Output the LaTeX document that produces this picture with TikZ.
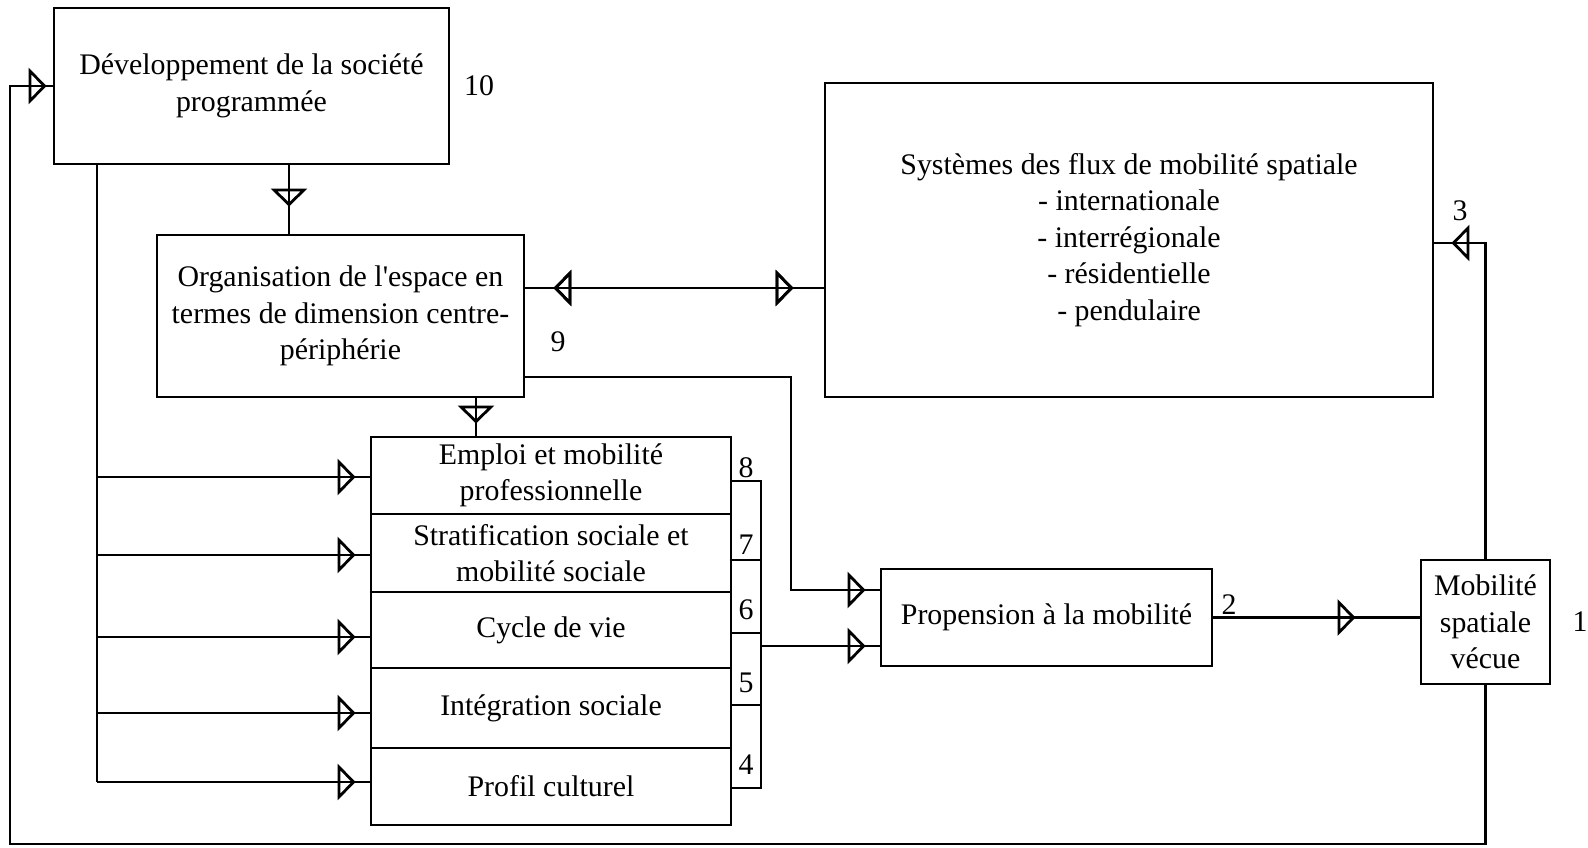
\documentclass[tikz,border=0pt]{standalone}
\usepackage{fontspec}
\setmainfont{Liberation Serif}
\usetikzlibrary{arrows.meta, positioning, decorations.markings}

\begin{document}
\begin{tikzpicture}[
    x=0.1mm, y=-0.1mm,
    every node/.style = {font=\fontsize{8.5}{10.4}\selectfont},
    tri/.tip = {Triangle[open, length=1.8mm, width=3.6mm]},
    box/.style = {rectangle, draw, line width=0.8pt, align=center, inner sep=0pt},
    layer/.style = {box, minimum width=36mm},
    num/.style = {inner sep=0pt},
    line/.style = {line width=0.6pt},
    gap/.style = {line, postaction={decorate},
                  decoration={markings, mark=at position -#1 with {\arrow[line width=0.8pt]{tri}}}},
    gapback/.style = {postaction={decorate},
                  decoration={markings, mark=at position #1 with {\arrowreversed[line width=0.8pt]{tri}}}}
  ]
  \useasboundingbox (0,0) rectangle (1588,848);

  % nodes
  \node[box, minimum width=39.5mm, minimum height=15.6mm] (dev) at (251.5,86)
       {D\'eveloppement de la soci\'et\'e\\programm\'ee};
  \node[box, minimum width=36.7mm, minimum height=16.2mm] (org) at (340.5,316)
       {Organisation de l\textquotesingle espace en\\termes de dimension centre-\\p\'eriph\'erie};
  \node[box, minimum width=60.8mm, minimum height=31.4mm] (sys) at (1129,240)
       {Syst\`emes des flux de mobilit\'e spatiale\\- internationale\\- interr\'egionale\\- r\'esidentielle\\- pendulaire};

  \node[layer, minimum height=7.7mm] (emp)   at (551,475.5) {Emploi et mobilit\'e\\professionnelle};
  \node[layer, minimum height=7.8mm] (strat) at (551,553)   {Stratification sociale et\\mobilit\'e sociale};
  \node[layer, minimum height=7.6mm] (cyc)   at (551,630)   {Cycle de vie};
  \node[layer, minimum height=8.0mm] (integ) at (551,708)   {Int\'egration sociale};
  \node[layer, minimum height=7.7mm] (prof)  at (551,786.5) {Profil culturel};

  \node[box, minimum width=33.1mm, minimum height=9.7mm]  (prop) at (1046.5,617.5) {Propension \`a la mobilit\'e};
  \node[box, minimum width=12.9mm, minimum height=12.4mm] (mob)  at (1485.5,622)   {Mobilit\'e\\spatiale\\v\'ecue};

  % numbers
  \node[num] at (479,86)   {10};
  \node[num] at (558,342)  {9};
  \node[num] at (1460,211) {3};
  \node[num] at (1229,605) {2};
  \node[num] at (1580,622) {1};
  \foreach \n/\y in {8/468, 7/545, 6/610, 5/683, 4/765}
    \node[num] at (746,\y) {\n};

  % coordinates for bends
  \coordinate (sp)   at ([xshift=4.4mm]dev.south west);
  \coordinate (br)   at (761,481);
  \coordinate (bend) at (791,590);
  \coordinate (lp)   at (10,844);

  % edges
  \draw[gap=2.7mm] (dev.south -| 289,0) -- (org.north -| 289,0);
  \draw[gap=1.2mm] (org.south -| 476,0) -- (emp.north -| 476,0);
  \draw[gap=3mm, gapback=2.8mm] (org.east |- 0,288) -- (sys.west |- 0,288);
  \draw[line] (sp) -- (sp |- 0,782);
  \foreach \b/\y in {emp/477, strat/555, cyc/637, integ/713, prof/782}
    \draw[gap=1.4mm] (sp |- 0,\y) -- (\b.west |- 0,\y);

  % bracket behind the layers
  \draw[line] (emp.east |- br) -- (br) -- (br |- 0,788) -- (prof.east |- 0,788);
  \foreach \y in {560, 633, 705}
    \draw[line] (emp.east |- 0,\y) -- (br |- 0,\y);
  \draw[gap=1.4mm] (br |- 0,646) -- (prop.west |- 0,646);

  \draw[gap=1.4mm] (org.east |- 0,377) -| (bend) -- (prop.west |- bend);
  \draw[gap=6.4mm] (prop.east) -- (mob.west |- prop.east);
  \draw[gap=1.7mm] (mob.north) |- (sys.east |- 0,243);
  \draw[gap=0.6mm] (mob.south) |- (lp) |- (dev.west);

\end{tikzpicture}
\end{document}
